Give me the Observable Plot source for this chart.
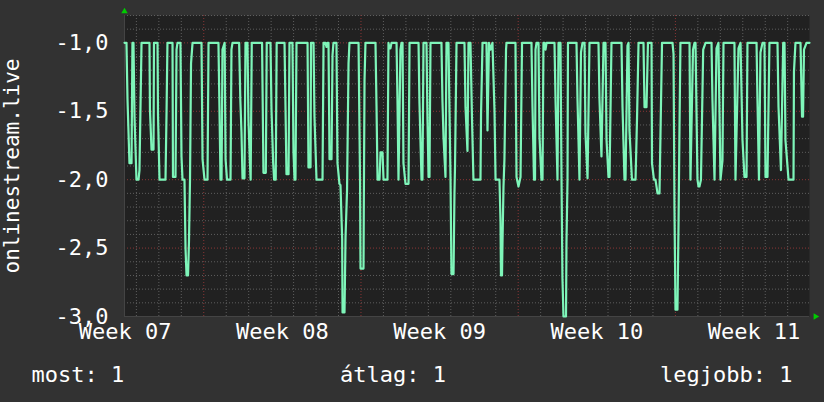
<!DOCTYPE html>
<html><head><meta charset="utf-8">
<script src="https://cdn.jsdelivr.net/npm/d3@7"></script>
<script src="https://cdn.jsdelivr.net/npm/@observablehq/plot@0.6"></script>
<style>html,body{margin:0;padding:0;background:#323232;}</style>
</head><body><div id="chart"></div>
<script>
// [hours since window start, value]
const samples = [
[0,-1],[2.1,-1],[3.2,-1.41],[5.3,-1.88],[7.5,-1.88],[8.5,-1],[9.6,-1],[10.7,-1.54],[12.8,-2],[15.0,-2],[16.0,-1.93],[18.2,-1],
[26.7,-1],[27.2,-1.49],[28.9,-1.78],[31.0,-1.78],[31.5,-1],[35.3,-1],[35.8,-1.52],[37.4,-2],[43.8,-2],[44.9,-1.52],[45.9,-1],
[51.3,-1],[51.8,-1.98],[54.5,-1.98],[55.6,-1.05],[56.6,-1],[59.8,-1],[60.9,-1.83],[62.0,-2],[64.1,-2],[65.2,-2.5],[66.3,-2.7],[67.9,-2.7],[68.9,-2.45],[70.0,-2],[71.1,-1.15],[72.7,-1],
[82.3,-1],[83.4,-1.85],[85.5,-2],[88.7,-2],[89.8,-1],
[100.4,-1],[101.5,-1.49],[102.6,-2],[103.7,-2],[104.7,-1.05],[107.0,-1],[108.0,-1.85],[109.5,-2],[113.3,-2],[114.3,-1.05],[115.4,-1],
[122.5,-1],[123.8,-1.42],[125.0,-1.65],[126.1,-1.99],[128.2,-1.99],[129.3,-1],[131.4,-1],[132.5,-1.57],[134.0,-1.87],[134.8,-2],[136.0,-1],
[147.0,-1],[148.5,-1.95],[151.0,-1.95],[152.0,-1],[156.0,-1],[157.1,-1.49],[158.9,-1.88],[159.9,-2],[161.6,-2],[162.6,-1],
[171.0,-1],[172.0,-1.45],[173.1,-1.96],[175.3,-1.96],[176.3,-1],[179.5,-1],[180.6,-1.8],[181.7,-2],[182.7,-2],[183.8,-1],
[195.6,-1],[196.6,-1.91],[198.8,-1.91],[199.3,-1],[202.0,-1],[203.0,-1.54],[205.2,-2],[211.6,-2],[212.7,-1],
[214.8,-1],[215.9,-1.03],[216.9,-1],[218.0,-1],[219.1,-1.85],[221.2,-1.85],[222.3,-1.09],[223.3,-1],
[226.5,-1],[227.6,-1.88],[229.7,-2.03],[230.8,-2.04],[232.6,-2.43],[233.0,-2.97],[235.1,-2.97],[236.2,-2.42],[237.8,-2.08],[239.4,-1.15],[240.4,-1],
[250.1,-1],[251.7,-2],[252.2,-2.65],[255.4,-2.65],[255.7,-2.22],[256.5,-1.27],[257.5,-1],
[268.2,-1],[269.3,-1.46],[270.4,-2],[272.5,-2],[273.6,-1.8],[275.7,-1.8],[276.8,-2],[281.0,-2],[282.1,-1],[283.2,-1.04],[284.2,-1.04],[285.3,-1],
[290.7,-1],[291.7,-1.42],[292.8,-2],[294.9,-1.05],[296.0,-1],[297.1,-1],[298.1,-1.88],[300.3,-2.03],[303.5,-2.03],[304.6,-1],
[314.2,-1],[315.2,-1.44],[317.4,-2],[318.4,-2],[319.5,-1],[322.7,-1],[323.8,-1.57],[324.9,-1.98],[325.9,-1.98],[327.0,-1],
[338.7,-1],[339.8,-1.43],[340.9,-1.69],[343.0,-1.98],[344.1,-1],[346.2,-1],[347.3,-1.5],[348.4,-2],[349.4,-2.69],[351.6,-2.69],[352.6,-2.1],[353.2,-1.9],[354.8,-1],
[363.3,-1],[364.4,-1.47],[366.5,-1.79],[367.6,-1],[369.7,-1],[371.3,-1.54],[372.9,-2],[380.4,-2],[381.0,-1.52],[382.6,-1],
[386.8,-1],[387.9,-1.64],[389.5,-1],[391.1,-1.05],[393.2,-1],[395.4,-1.5],[396.5,-2],[400.7,-2],[401.8,-2.3],[402.3,-2.7],[403.4,-2.7],[403.9,-2.47],[405.0,-2.05],[406.0,-1.85],[407.7,-1.05],[408.2,-1],
[417.8,-1],[418.9,-1.98],[421.0,-2.05],[423.2,-1.98],[424.8,-1],
[434.9,-1],[436.0,-1.47],[437.6,-2],[438.7,-2],[439.2,-1.05],[440.3,-1],[442.4,-1],[443.5,-1.69],[445.6,-2],[446.7,-2],[447.7,-1],[448.8,-1],[449.9,-1.05],[451.0,-1],
[459.5,-1],[460.6,-1.42],[462.7,-2],[463.8,-1],[465.9,-1],[467.0,-2],[468.0,-2.72],[469.1,-3],[471.8,-3],[472.3,-2.46],[473.4,-2],[473.9,-1],
[483.0,-1],[484.1,-1.42],[486.2,-2],[487.8,-1.07],[489.4,-1],[491.6,-1],[492.6,-1.66],[494.8,-1.99],[496.9,-1],
[506.5,-1],[507.6,-1.42],[509.7,-1.83],[511.9,-1],[514.0,-1],[515.1,-1.71],[517.2,-1.98],[518.3,-1.98],[520.4,-1],
[531.1,-1],[532.2,-1.47],[534.3,-2],[535.4,-2],[537.5,-1.02],[538.6,-1],[539.6,-1.64],[542.3,-2],[546.1,-2],[547.7,-1.55],[549.3,-1],
[554.6,-1],[555.7,-1.47],[557.8,-1.47],[559.4,-1],[563.2,-1],[563.7,-1.88],[565.8,-2],[567.4,-2],[569.6,-2.1],[571.7,-2.1],[572.8,-1.65],[574.4,-1],
[585.6,-1],[586.7,-1.08],[587.7,-2.2],[588.8,-2.95],[590.9,-2.95],[592.0,-2.35],[593.1,-1.6],[594.1,-1],
[603.8,-1],[604.8,-2],[607.5,-1.05],[609.1,-1],[610.2,-1],[612.3,-2],[613.4,-2.05],[614.4,-2.05],[616.0,-2],[618.4,-1.05],[620.9,-1],
[627.3,-1],[628.3,-1.42],[630.5,-2],[632.6,-1.04],[634.7,-1],[636.9,-2],[639.0,-1.86],[640.1,-1],
[651.8,-1],[652.9,-2],[656.1,-1.04],[658.3,-1],[660.4,-1.71],[662.5,-1.98],[664.7,-1.98],[665.7,-1],
[675.4,-1],[676.4,-1.42],[678.0,-2],[679.6,-1.07],[681.8,-1],[683.9,-1],[685.0,-1.98],[687.1,-1.98],[689.2,-1],
[697.8,-1],[698.9,-1.47],[701.5,-1.93],[703.9,-1],[705.3,-1],[706.3,-1.71],[709.6,-2],[714.9,-2],[715.4,-1.21],[717.0,-1],
[722.4,-1],[724.0,-1.54],[725.1,-1.54],[726.1,-1.05],[728.8,-1],[732,-1]
];
const xDomain = [0, 732];               // hours shown
const yDomain = [-3, -0.8];
const yTicks = [-3, -2.5, -2, -1.5, -1];
const yTickLabels = ["-3,0", "-2,5", "-2,0", "-1,5", "-1,0"];
const weekLabels = ["Week 07", "Week 08", "Week 09", "Week 10", "Week 11"];
const weekLabelHours = [0.7, 168.7, 336.7, 504.7, 672.7];
const weekStartHours = [84.7, 252.7, 420.7, 588.7];
const yTitle = "onlinestream.live";
const legendTexts = ["most: 1", "átlag: 1", "legjobb: 1"];

const data = samples.map(([h, v]) => ({h, v}));
const dayHours = d3.range(12.7, 732, 24).filter(h => !weekStartHours.some(w => Math.abs(w - h) < 0.5));
const yMinor = d3.range(-29, -7).map(k => k / 10).filter(v => Math.abs(v * 2 - Math.round(v * 2)) > 1e-6);

const white = "#ffffff";
const chart = Plot.plot({
  width: 824, height: 402,
  marginLeft: 124, marginRight: 15, marginTop: 15, marginBottom: 86,
  x: {domain: xDomain},
  y: {domain: yDomain},
  style: {background: "#323232", color: white, fontFamily: "'DejaVu Sans Mono', monospace", fontSize: "22px"},
  marks: [
    Plot.frame({fill: "#212121", stroke: null}),
    Plot.ruleY(yMinor, {stroke: "#5e5e5e", strokeDasharray: "1,2"}),
    Plot.ruleX(dayHours, {stroke: "#5e5e5e", strokeDasharray: "1,2"}),
    Plot.ruleY(yTicks.filter(v => v > -3), {stroke: "#8a3636", strokeDasharray: "1,2"}),
    Plot.ruleX(weekStartHours, {stroke: "#8a3636", strokeDasharray: "1,2"}),
    Plot.ruleY([yDomain[0]], {stroke: "#444444"}),
    Plot.ruleX([xDomain[0]], {stroke: "#444444"}),
    Plot.line(data, {x: "h", y: "v", stroke: "#7ef5b9", strokeWidth: 2.2}),
    Plot.axisY(yTicks, {tickSize: 0, tickPadding: 16, tickFormat: d => yTickLabels[yTicks.indexOf(d)], label: null, fill: white}),
    Plot.axisX(weekLabelHours, {tickSize: 0, tickPadding: 7, tickFormat: d => weekLabels[weekLabelHours.indexOf(d)], label: null, fill: white}),
    Plot.text([yTitle], {frameAnchor: "left", dx: -112, rotate: -90, text: d => d, fill: white, fontSize: 21, textAnchor: "middle", lineAnchor: "middle"}),
    Plot.text([legendTexts[0]], {frameAnchor: "bottom-left", dx: -93, dy: 65, text: d => d, fill: white, textAnchor: "start", lineAnchor: "bottom"}),
    Plot.text([legendTexts[1]], {frameAnchor: "bottom", dx: -74, dy: 65, text: d => d, fill: white, textAnchor: "middle", lineAnchor: "bottom"}),
    Plot.text([legendTexts[2]], {frameAnchor: "bottom-right", dx: -17, dy: 65, text: d => d, fill: white, textAnchor: "end", lineAnchor: "bottom"}),
    Plot.dot([xDomain[0]], {x: d => d, y: () => yDomain[1], symbol: "triangle", r: 2.4, fill: "#00cc00", dy: -4}),
    Plot.dot([xDomain[1]], {x: d => d, y: () => yDomain[0], symbol: "triangle", r: 2.4, fill: "#00cc00", rotate: 90, dx: 6})
  ]
});
document.getElementById("chart").appendChild(chart);
</script>
</body></html>
